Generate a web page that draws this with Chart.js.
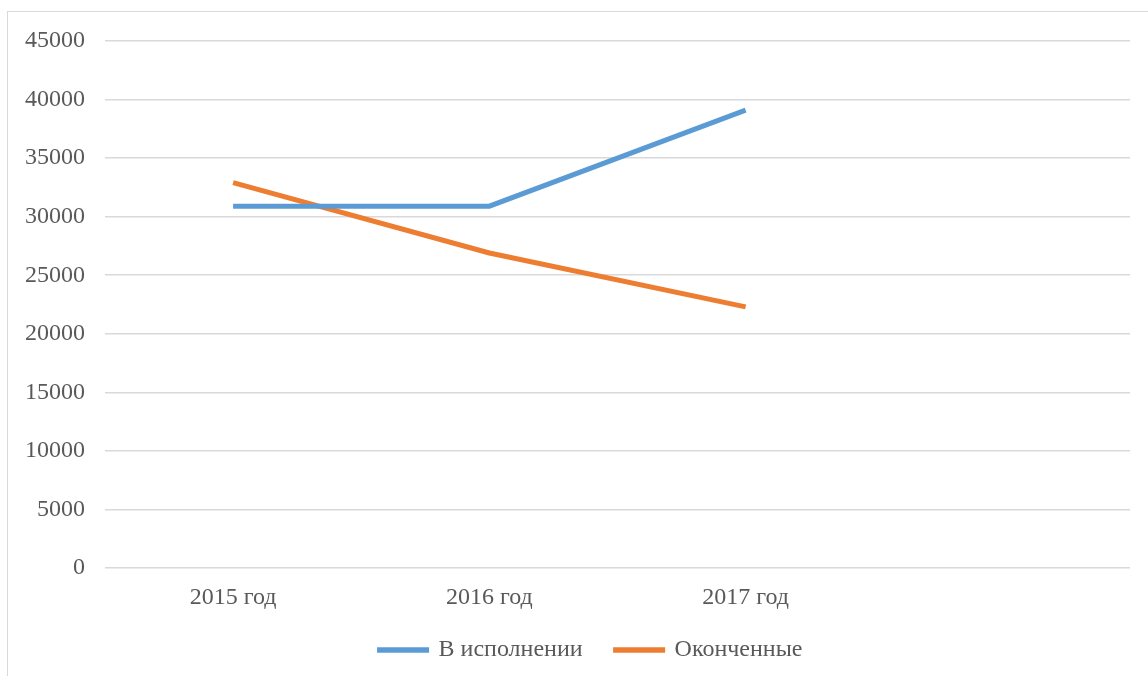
<!DOCTYPE html>
<html>
<head>
<meta charset="utf-8">
<script src="https://cdn.jsdelivr.net/npm/chart.js@4/dist/chart.umd.min.js"></script>
<style>
  html, body { margin: 0; padding: 0; background: #fff; overflow: hidden; }
  #frame { position: absolute; left: 7px; top: 11px; width: 1160px; height: 700px; border: 1.5px solid #d9d9d9; }
  #wrap { position: absolute; left: 0; top: 0; width: 1148px; height: 676px; }
</style>
</head>
<body>
<div id="frame"></div>
<div id="wrap"><canvas id="chart"></canvas></div>
<script>
// categories (the 4th one is empty in the original)
const years = ['2015 год', '2016 год', '2017 год', ''];
const vIspolnenii = [30900, 30900, 39100, null];
const okonchennye = [32900, 26900, 22300, null];
const yTicks = [0, 5000, 10000, 15000, 20000, 25000, 30000, 35000, 40000, 45000];

const serif = 'Liberation Serif, "Times New Roman", serif';

// legend sits a bit right of the canvas centre and closer to the axis labels in the original
const legendShift = {
  id: 'legendShift',
  afterLayout(chart) {
    chart.legend.left += 26;
    chart.legend.right += 26;
    chart.legend.top -= 8;
    chart.legend.bottom -= 8;
  }
};

new Chart(document.getElementById('chart'), {
  type: 'line',
  data: {
    labels: years,
    datasets: [
      {
        label: 'В исполнении',
        data: vIspolnenii,
        borderColor: '#5b9bd5',
        backgroundColor: '#5b9bd5',
        borderWidth: 5,
        pointRadius: 0,
        tension: 0
      },
      {
        label: 'Оконченные',
        data: okonchennye,
        borderColor: '#ed7d31',
        backgroundColor: '#ed7d31',
        borderWidth: 5,
        pointRadius: 0,
        tension: 0
      }
    ]
  },
  plugins: [legendShift],
  options: {
    responsive: true,
    maintainAspectRatio: false,
    animation: false,
    layout: { padding: { top: 41, right: 18, left: 0, bottom: 0 } },
    plugins: {
      tooltip: { enabled: false },
      legend: {
        position: 'bottom',
        maxHeight: 63,
        labels: {
          boxWidth: 47,
          boxHeight: 0.5,
          padding: 33,
          color: '#595959',
          font: { family: serif, size: 24 }
        }
      }
    },
    scales: {
      x: {
        offset: true,
        grid: { display: false, drawTicks: false },
        border: { display: false },
        ticks: { color: '#595959', padding: 15, font: { family: serif, size: 24 }, maxRotation: 0 },
        afterFit: function (scale) { scale.height = 45; }
      },
      y: {
        min: 0,
        max: 45000,
        grid: { color: '#d9d9d9', lineWidth: 1.5, drawTicks: false },
        border: { display: false },
        afterBuildTicks: function (scale) { scale.ticks = yTicks.map(v => ({ value: v })); },
        ticks: {
          color: '#595959', padding: 20, font: { family: serif, size: 24 },
          callback: function (v) { return String(v); }
        },
        afterFit: function (scale) { scale.width = 105; }
      }
    }
  }
});
</script>
</body>
</html>
